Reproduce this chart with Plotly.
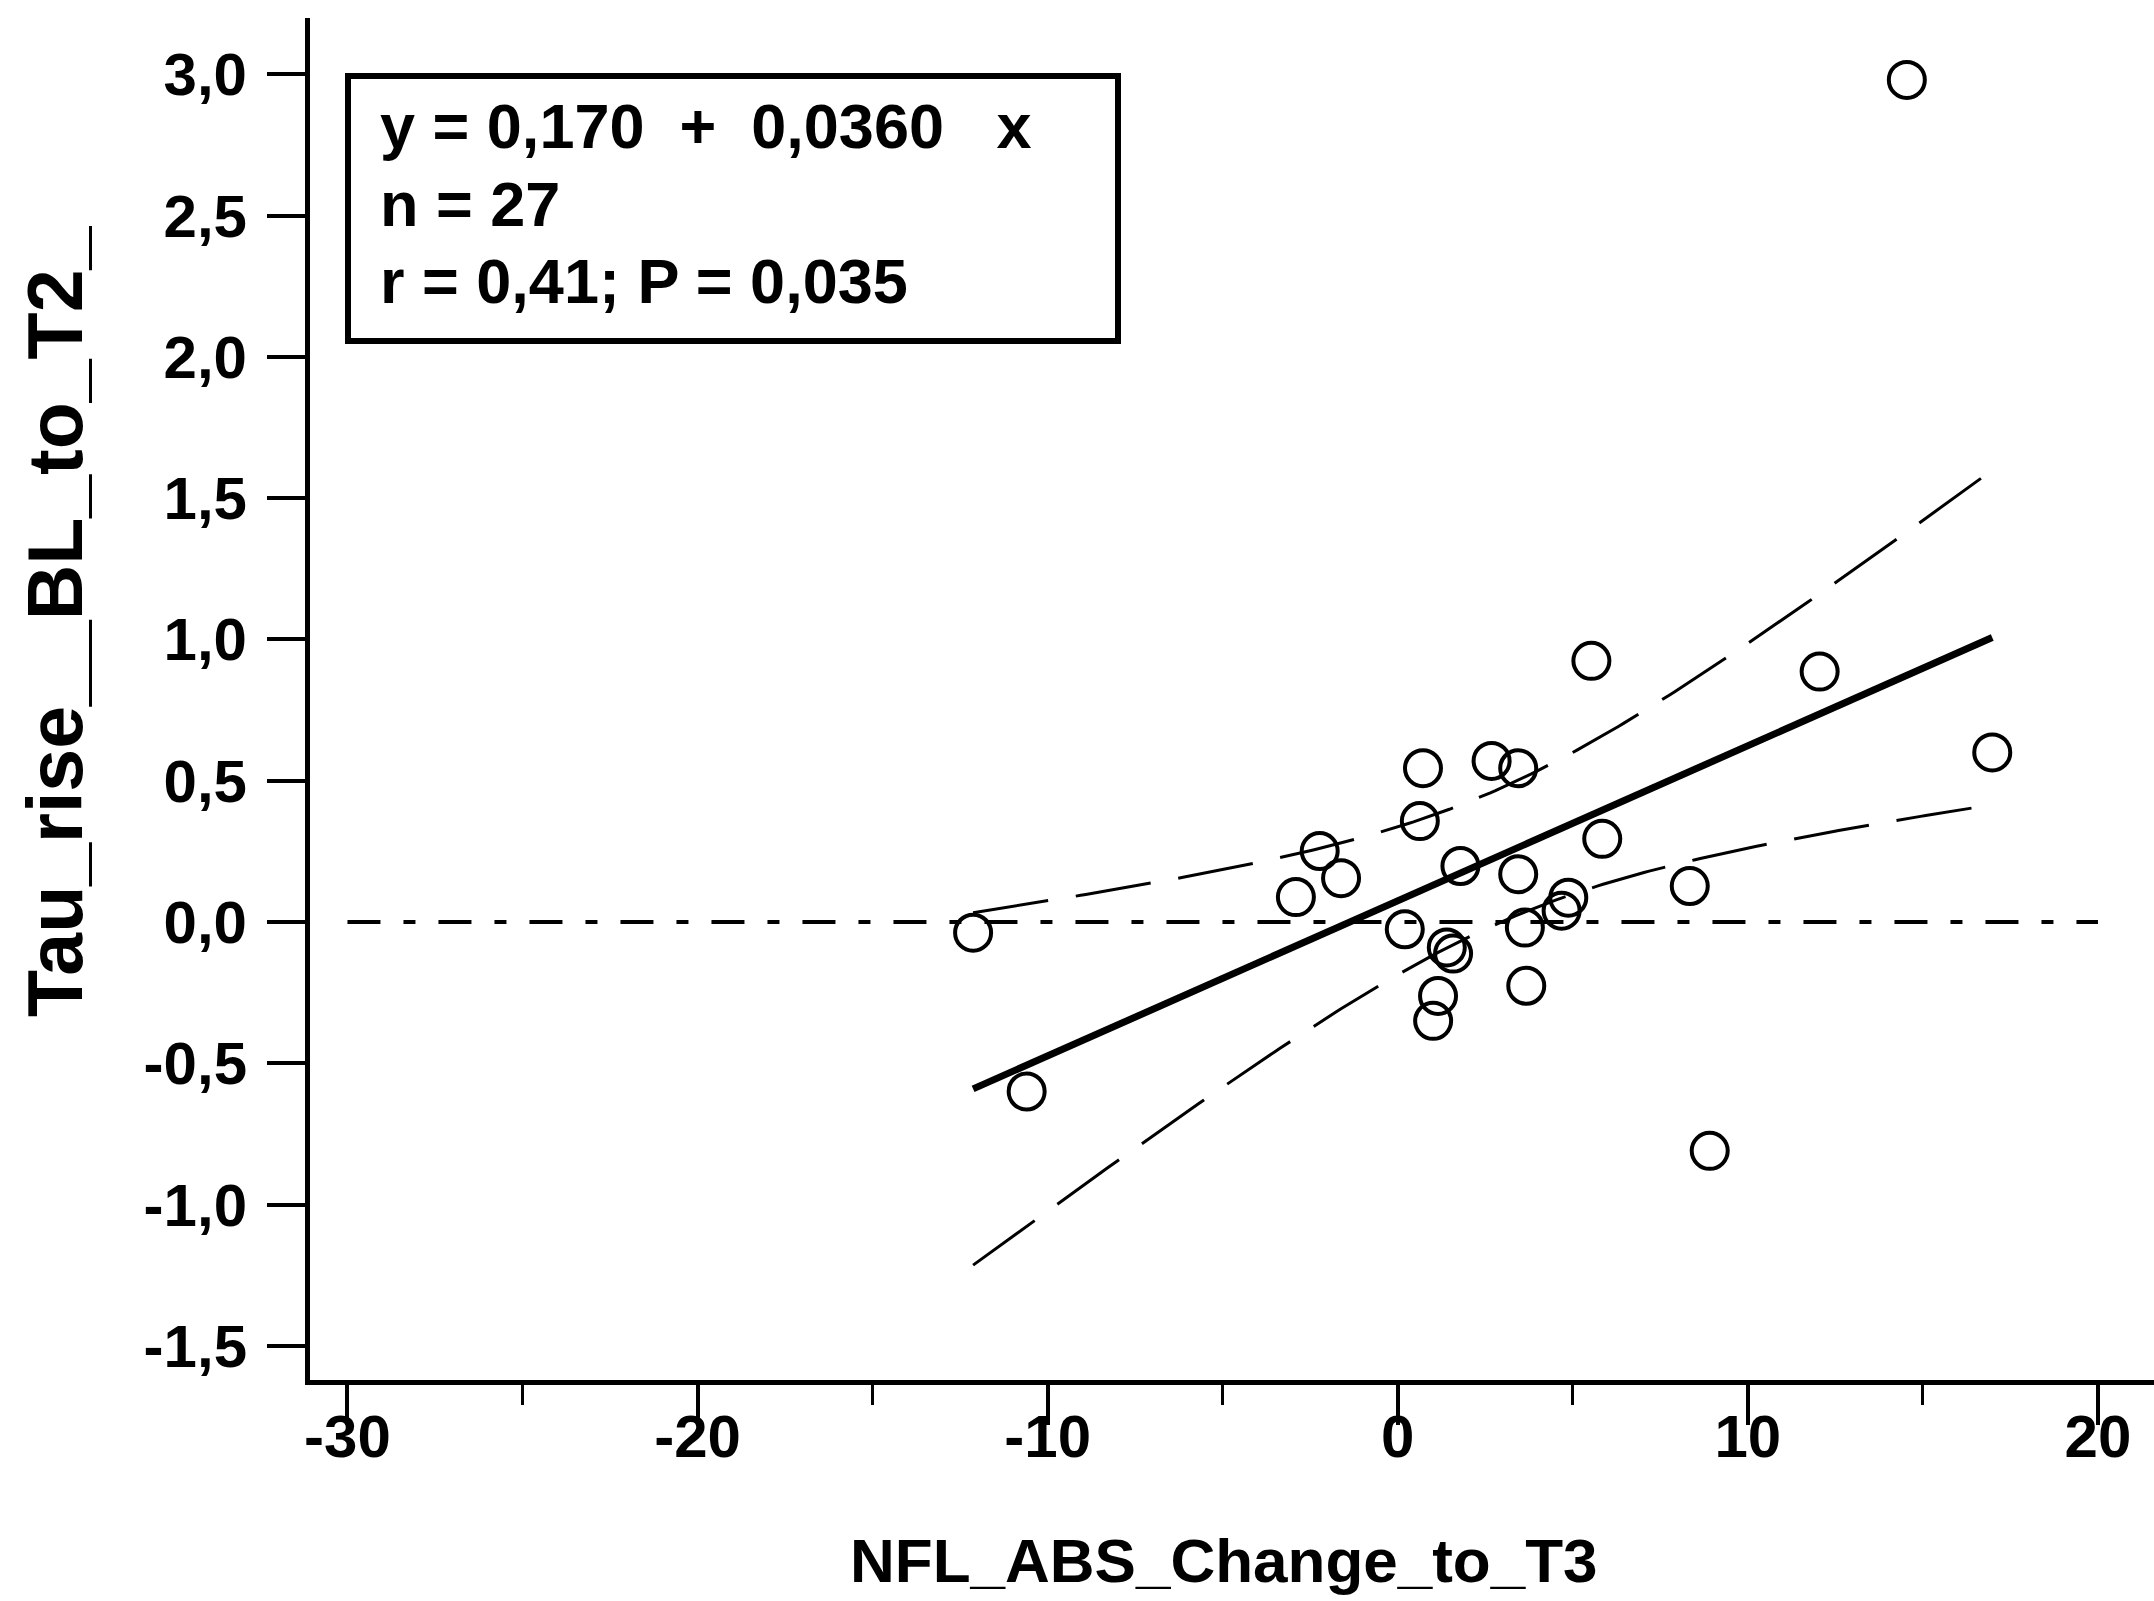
import numpy as np
import plotly.graph_objects as go

# Scatter data: change in NFL (x) vs. tau rise (y)
nfl_change = [14.54, 8.91, 16.98, 0.72, 2.68, 3.44, 0.63, -2.23, -1.62, -2.91,
              1.79, 3.44, 5.84, 4.87, 4.68, 0.20, 3.63, 1.58, 1.40, 1.15,
              1.01, 3.67, 5.53, 12.05, 8.34, -12.13, -10.60]
tau_rise = [2.98, -0.81, 0.60, 0.544, 0.570, 0.544, 0.357, 0.251, 0.155, 0.088,
            0.198, 0.169, 0.294, 0.086, 0.040, -0.026, -0.020, -0.112, -0.090, -0.262,
            -0.350, -0.226, 0.924, 0.886, 0.127, -0.038, -0.600]

# Axis ticks
x_tick_vals = [-30, -20, -10, 0, 10, 20]
x_tick_text = ["-30", "-20", "-10", "0", "10", "20"]
y_tick_vals = [-1.5, -1.0, -0.5, 0.0, 0.5, 1.0, 1.5, 2.0, 2.5, 3.0]
y_tick_text = ["-1,5", "-1,0", "-0,5", "0,0", "0,5", "1,0", "1,5", "2,0", "2,5", "3,0"]

# Statistics box text
stats_lines = ["y = 0,170\u00a0\u00a0+\u00a0\u00a00,0360\u00a0\u00a0\u00a0x",
               "n = 27",
               "r = 0,41; P = 0,035"]

x_title = "NFL_ABS_Change_to_T3"
y_title = "Tau_rise__BL_to_T2_"

# Least-squares fit and 95% confidence band of the regression line
x = np.array(nfl_change)
y = np.array(tau_rise)
n = len(x)
slope, intercept = np.polyfit(x, y, 1)
resid = y - (intercept + slope * x)
s = np.sqrt(np.sum(resid ** 2) / (n - 2))
sxx = np.sum((x - x.mean()) ** 2)
t_crit = 2.060  # two-sided 95 %, df = n - 2
xs = np.linspace(x.min(), x.max(), 200)
fit = intercept + slope * xs
half = t_crit * s * np.sqrt(1.0 / n + (xs - x.mean()) ** 2 / sxx)

FONT = "Liberation Sans, Arial, sans-serif"

fig = go.Figure()

# Confidence band limits
for band in (fit + half, fit - half):
    fig.add_trace(go.Scatter(x=xs, y=band, mode="lines",
                             line=dict(color="black", width=3, dash="76px,28px"),
                             hoverinfo="skip", showlegend=False))

# Regression line
fig.add_trace(go.Scatter(x=xs, y=fit, mode="lines",
                         line=dict(color="black", width=7),
                         showlegend=False))

# Reference line at y = 0
fig.add_trace(go.Scatter(x=[-30, 20], y=[0, 0], mode="lines",
                         line=dict(color="black", width=4, dash="33px,23px,12px,23px"),
                         hoverinfo="skip", showlegend=False))

# Data points
fig.add_trace(go.Scatter(x=nfl_change, y=tau_rise, mode="markers",
                         marker=dict(symbol="circle-open", size=36, color="black",
                                     line=dict(width=4, color="black")),
                         showlegend=False))

L, R, T, B = 310, 0, 18, 221
W, H = 2154 - L - R, 1601 - T - B


def px_to_paper(px, py):
    return (px - L) / W, (1601 - B - py) / H


# Statistics box
bx0, by0 = px_to_paper(348, 341)
bx1, by1 = px_to_paper(1118, 76)
fig.add_shape(type="rect", xref="paper", yref="paper",
              x0=bx0, y0=by0, x1=bx1, y1=by1,
              line=dict(color="black", width=6), fillcolor="rgba(0,0,0,0)")

for text, py in zip(stats_lines, [126, 204, 281]):
    ax, ay = px_to_paper(378, py)
    fig.add_annotation(text=text, xref="paper", yref="paper", x=ax, y=ay,
                       xanchor="left", yanchor="middle", showarrow=False,
                       font=dict(family=FONT, size=63, color="black", weight="bold"))

# Axis titles
tx, ty = px_to_paper(1224, 1560)
fig.add_annotation(text=x_title, xref="paper", yref="paper", x=tx, y=ty,
                   xanchor="center", yanchor="middle", showarrow=False,
                   font=dict(family=FONT, size=62, color="black", weight="bold"))
tx, ty = px_to_paper(55, 622)
fig.add_annotation(text=y_title, xref="paper", yref="paper", x=tx, y=ty,
                   xanchor="center", yanchor="middle", showarrow=False, textangle=-90,
                   font=dict(family=FONT, size=77, color="black", weight="bold"))

fig.update_layout(
    width=2154, height=1601,
    margin=dict(l=L, r=R, t=T, b=B, pad=0),
    paper_bgcolor="white", plot_bgcolor="white",
    font=dict(family=FONT, size=60, color="black", weight="bold"),
    showlegend=False,
)

fig.update_xaxes(
    range=[-31.07, 21.60], showgrid=False, zeroline=False,
    showline=True, linecolor="black", linewidth=5,
    ticks="outside", ticklen=40, tickwidth=4, tickcolor="black",
    tickvals=x_tick_vals, ticktext=x_tick_text, ticklabelstandoff=-40,
    minor=dict(ticks="outside", ticklen=20, tickwidth=3, tickcolor="black", dtick=5,
               tick0=-30, showgrid=False),
)
fig.update_yaxes(
    range=[-1.621, 3.199], showgrid=False, zeroline=False,
    showline=True, linecolor="black", linewidth=5,
    ticks="outside", ticklen=38, tickwidth=4, tickcolor="black",
    tickvals=y_tick_vals, ticktext=y_tick_text, ticklabelstandoff=8,
)

fig.write_html("out.html")
